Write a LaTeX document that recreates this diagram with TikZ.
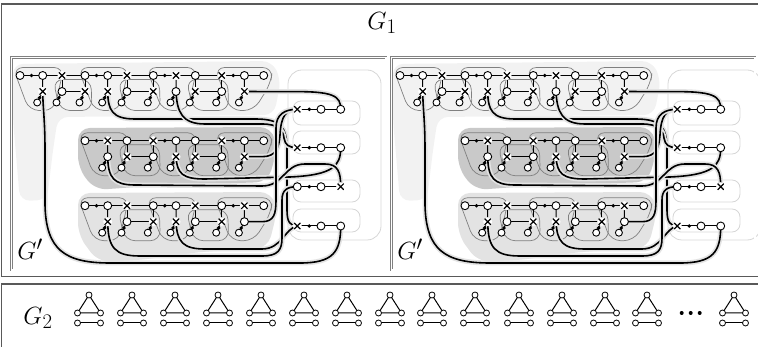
\documentclass[tikz,border=0pt]{standalone}
\pgfdeclarelayer{bgl}
\pgfdeclarelayer{outl}
\pgfdeclarelayer{wirel}
\pgfdeclarelayer{edgel}
\pgfsetlayers{bgl,outl,wirel,edgel,main}
\tikzset{
 vn/.style={circle,draw=black,fill=white,line width=0.9pt,inner sep=0pt,minimum size=8pt},
 lf/.style={circle,draw=black,fill=white,line width=0.9pt,inner sep=0pt,minimum size=7pt},
 sm/.style={circle,draw=black,fill=white,line width=0.8pt,inner sep=0pt,minimum size=6pt},
 dn/.style={circle,fill=black,inner sep=0pt,minimum size=3.8pt},
 xn/.style={circle,fill=white,inner sep=0pt,minimum size=9pt,path picture={\draw[line width=1.2pt,black] (path picture bounding box.north west)--(path picture bounding box.south east) (path picture bounding box.north east)--(path picture bounding box.south west);}},
 ed/.style={line width=1pt,black},
 wire/.style={line width=1.6pt,black,preaction={draw=gray!22,line width=5pt}},
 blob/.style={draw=gray,line width=0.7pt,rounded corners=10pt},
 col/.style={draw=gray!32,line width=0.8pt},
 gframe/.style={draw=gray,double=white,double distance=1.3pt,line width=0.7pt},
 outer/.style={draw=gray!70!black,line width=1.3pt},
 lab/.style={font=\fontsize{24.88}{25}\selectfont,inner sep=0pt}
}
\newcommand\grow[3]{%
  \foreach \k/\ux/\nx/\last/\mp/\mq/\mr/\md/\me/\mf in {#3}{%
    \node[\mp] (#1p\k) at (\ux,#2) {};
    \node[dn] (#1a\k) at (\ux+11.5,#2) {};
    \node[\mq] (#1q\k) at (\ux+22.7,#2) {};
    \node[\mr] (#1r\k) at (\ux+42,#2) {};
    \node[\md] (#1D\k) at (\ux+22.7,#2+16) {};
    \node[dn] (#1b\k) at (\ux+19.6,#2+22.3) {};
    \node[lf] (#1d\k) at (\ux+17.2,#2+27) {};
    \ifnum\last=0
      \node[\me] (#1E\k) at (\ux+42,#2+16) {};
      \node[dn] (#1g\k) at (\ux+38.9,#2+22.3) {};
      \node[lf] (#1e\k) at (\ux+36.5,#2+27) {};
      \node[\mf] (#1F\k) at (\nx,#2+16) {};
      \node[dn] (#1h\k) at (\nx-3.1,#2+22.3) {};
      \node[lf] (#1f\k) at (\nx-5.5,#2+27) {};
    \fi
  }%
  \begin{pgfonlayer}{edgel}
  \foreach \k/\ux/\nx/\last/\mp/\mq/\mr/\md/\me/\mf in {#3}{%
    \draw[ed] (#1p\k.center) -- (#1q\k.center) -- (#1r\k.center);
    \draw[ed] (#1q\k.center) -- (#1D\k.center) -- (#1d\k.center);
    \ifnum\last=0
      \pgfmathtruncatemacro\kn{\k+1}
      \draw[ed] (#1r\k.center) -- (#1p\kn.center) -- (#1F\k.center) -- (#1E\k.center) -- (#1r\k.center);
      \draw[ed] (#1E\k.center) -- (#1e\k.center);
      \draw[ed] (#1F\k.center) -- (#1f\k.center);
    \fi
  }%
  \end{pgfonlayer}
  \begin{pgfonlayer}{outl}
  \foreach \k/\ux/\nx/\last/\mp/\mq/\mr/\md/\me/\mf in {#3}{%
    \ifnum\last=0
      \draw[blob] (\ux-7,#2-8) -- (\ux+44,#2-8) -- (\ux+34,#2+35) -- (\ux+9,#2+35) -- cycle;
      \draw[blob] (\ux+33,#2+4) -- (\nx+6,#2+4) -- (\nx+7,#2+35) -- (\ux+40,#2+35) -- cycle;
    \else
      \draw[blob] (\ux-7,#2-8) -- (\ux+51,#2-8) -- (\ux+49,#2+8) -- (\ux+32,#2+35) -- (\ux+9,#2+35) -- cycle;
    \fi
  }%
  \end{pgfonlayer}
}
\newcommand\gprime[1]{%
  \begin{pgfonlayer}{bgl}
    \fill[gray!10,rounded corners=10pt] (13,64) -- (272,61) -- (281,80) -- (274,115) -- (58,117) -- (53,150) -- (47,200) -- (20,201) -- (13,120) -- cycle;
    \fill[gray!42,rounded corners=12pt] (78,128) -- (272,127) -- (277,150) -- (268,182) -- (150,186) -- (95,190) -- (78,168) -- cycle;
    \fill[gray!22,rounded corners=12pt] (78,193) -- (272,192) -- (277,212) -- (268,248) -- (200,252) -- (140,260) -- (98,262) -- (78,235) -- cycle;
    \draw[col,rounded corners=14pt] (288,70) rectangle (381,240);
    \draw[col,rounded corners=8pt] (293,101) rectangle (360,125);
    \draw[col,rounded corners=8pt] (293,131) rectangle (360,154);
    \draw[col,rounded corners=8pt] (293,180) rectangle (360,202);
    \draw[col,rounded corners=8pt] (293,209) rectangle (360,232);
  \end{pgfonlayer}
  \grow{#1A}{75.5}{0/20/85/0/vn/vn/xn/xn/vn/xn, 1/85/153.3/0/vn/vn/xn/xn/vn/xn, 2/153.3/221.7/0/vn/xn/vn/vn/xn/vn, 3/221.7/0/1/xn/vn/vn/xn/vn/vn}
  \grow{#1B}{140.7}{0/85/153.3/0/vn/xn/vn/vn/xn/vn, 1/153.3/221.7/0/xn/vn/vn/xn/xn/vn, 2/221.7/0/1/xn/vn/vn/xn/vn/vn}
  \grow{#1C}{205.7}{0/85/153.3/0/vn/vn/xn/xn/vn/xn, 1/153.3/221.7/0/vn/vn/xn/xn/vn/xn, 2/221.7/0/1/vn/xn/vn/vn/vn/vn}
  \foreach \i/\yy/\sa/\sd in {1/109.3/xn/vn, 2/147.7/xn/vn, 3/186.7/vn/xn, 4/226/xn/vn}{%
    \node[\sa] (#1c\i a) at (297.3,\yy) {};
    \node[dn] (#1c\i b) at (309.3,\yy) {};
    \node[vn] (#1c\i c) at (321,\yy) {};
    \node[\sd] (#1c\i d) at (340.7,\yy) {};
    \begin{pgfonlayer}{edgel}
      \draw[ed] (#1c\i a.center) -- (#1c\i d.center);
    \end{pgfonlayer}
  }%
  \begin{pgfonlayer}{wirel}
    \draw[wire] (#1AD3.center) -- (290,91.7) .. controls (334,91) and (340.7,96) .. (#1c1d.center);
    \draw[wire] (#1AD0.center) .. controls (43,110) and (45,120) .. (45,150) -- (45,205) .. controls (46,250) and (65,263) .. (110,263) -- (300,263) .. controls (333,263) and (340.7,252) .. (#1c4d.center);
    \draw[wire] (#1AD1.center) .. controls (108,110) and (112,119) .. (135,119) -- (255,119) .. controls (280,119) and (287,126) .. (287,150) -- (287,210) .. controls (287,222) and (290,226) .. (#1c4a.center);
    \draw[wire] (#1AD2.center) .. controls (177,112) and (182,124) .. (205,124) -- (262,124) .. controls (278,124) and (283,130) .. (284,138) .. controls (285,145) and (289,147.7) .. (#1c2a.center);
    \draw[wire] (#1BD2.center) -- (262,156.7) .. controls (276,156.7) and (279,148) .. (280,135) .. controls (281,116) and (286,109.3) .. (#1c1a.center);
    \draw[wire] (#1BD1.center) .. controls (177,174) and (183,179) .. (205,179) -- (290,177) .. controls (333,175) and (340.7,166) .. (#1c2d.center);
    \draw[wire] (#1BD0.center) .. controls (108,178) and (114,185) .. (135,185) -- (262,186) .. controls (284,186) and (284,164) .. (305,164) -- (325,164) .. controls (338,164) and (340.7,172) .. (#1c3d.center);
    \draw[wire] (#1CD2.center) -- (262,221.7) .. controls (274,221.7) and (276,214) .. (276,200) -- (276,128) .. controls (276,114) and (285,109.3) .. (#1c1a.center);
    \draw[wire] (#1CD1.center) .. controls (177,242) and (183,249) .. (205,249) -- (262,249) .. controls (282,249) and (285,228) .. (#1c4a.center);
    \draw[wire] (#1CD0.center) .. controls (108,248) and (115,256) .. (140,256) -- (262,256) .. controls (278,256) and (282,250) .. (282,238) -- (282,200) .. controls (282,190) and (287,186.7) .. (#1c3a.center);
  \end{pgfonlayer}
  \node[lab] (#1lab) at (30,249) {$G'$};
}
\begin{document}
\begin{tikzpicture}[x=1pt,y=-1pt]
\useasboundingbox (0,0) rectangle (758,347);
\draw[outer] (1.5,4) rectangle (775,276.5);
\draw[outer] (1.5,284) rectangle (775,365);
\node[lab] (g1) at (382,23) {$G_1$};
\node[lab] (g2) at (38,318) {$G_2$};
\draw[gframe] (11.5,57.5) rectangle (386,270);
\draw[gframe] (391.5,57.5) rectangle (755,270);
\gprime{L}
\begin{scope}[xshift=380pt]
\gprime{R}
\end{scope}
\foreach \i/\xx in {0/89,1/132,2/175,3/218,4/261,5/304,6/347,7/390,8/432,9/475,10/519,11/562,12/605,13/647,14/734}{%
  \node[sm] (t\i-a) at (\xx,295) {};
  \node[sm] (t\i-b) at (\xx-11.5,313) {};
  \node[sm] (t\i-c) at (\xx+11.5,313) {};
  \node[sm] (s\i-a) at (\xx-11.5,323) {};
  \node[sm] (s\i-b) at (\xx+11.5,323) {};
  \begin{pgfonlayer}{edgel}
    \draw[ed] (t\i-a.center) -- (t\i-b.center) -- (t\i-c.center) -- cycle;
    \draw[ed] (s\i-a.center) -- (s\i-b.center);
  \end{pgfonlayer}
}
\node[dn,minimum size=4pt] (e1) at (681.7,313) {};
\node[dn,minimum size=4pt] (e2) at (690.7,313) {};
\node[dn,minimum size=4pt] (e3) at (699.7,313) {};
\end{tikzpicture}
\end{document}
